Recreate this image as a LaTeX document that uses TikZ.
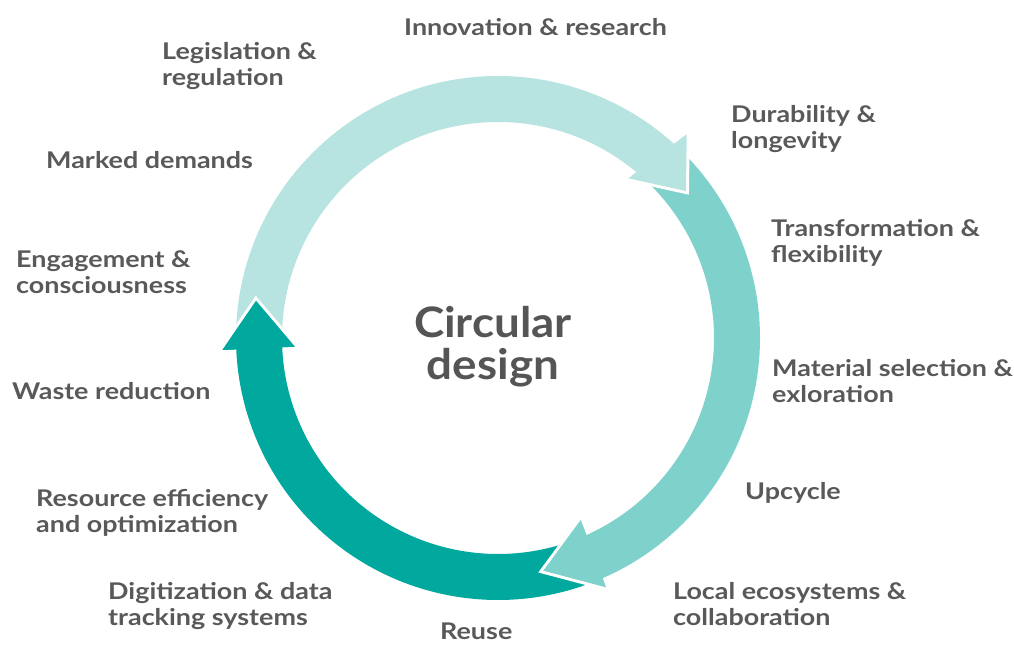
\documentclass[tikz,border=0pt]{standalone}
\usepackage{fontspec}
\setmainfont{Lato}[FakeStretch=1.17]
\newfontfamily\titlefont{Lato}[FakeStretch=1.09]
\definecolor{lightc}{RGB}{183,228,225}
\definecolor{midc}{RGB}{126,210,203}
\definecolor{darkc}{RGB}{0,168,157}
\definecolor{txtc}{RGB}{89,89,89}
\definecolor{titlec}{RGB}{85,85,85}
\tikzset{
  lbl/.style={anchor=north west, inner sep=0pt, align=left, text=txtc,
    font=\fontsize{23}{26.5}\selectfont\bfseries},
  title/.style={inner sep=0pt, align=center, text=titlec,
    font=\titlefont\fontsize{42}{42}\selectfont\bfseries},
  halo/.style={draw=white, line width=6pt, line join=miter, line cap=butt},
}
\begin{document}
\begin{tikzpicture}[x=1pt,y=1pt]
\useasboundingbox (-498,-307) rectangle (516,338);
% head points
\coordinate (lo) at (188.7,203.7);
\coordinate (lt) at (188.0,147.0);
\coordinate (li) at (130.3,159.7);
\coordinate (mo) at (108.0,-249.3);
\coordinate (mt) at (45.3,-232.7);
\coordinate (mi) at (82.7,-182.0);
\coordinate (do) at (-275.7,-12.0);
\coordinate (dt) at (-242.0,37.3);
\coordinate (di) at (-203.0,-8.7);
% bodies
\fill[lightc] (180:262) arc[start angle=180, end angle=47.8, radius=262]
  -- (lo) -- (lt) -- (li) -- (50.1:216)
  arc[start angle=50.1, end angle=180, radius=216] -- cycle;
\fill[midc] (46:262) arc[start angle=46, end angle=-66.47, radius=262]
  -- (mo) -- (mt) -- (mi) -- (-65.85:216)
  arc[start angle=-65.85, end angle=46, radius=216] -- cycle;
\fill[darkc] (-68:262) arc[start angle=-68, end angle=-177.51, radius=262]
  -- (do) -- (dt) -- (di) -- (-177.54:216)
  arc[start angle=-177.54, end angle=-68, radius=216] -- cycle;
% heads with white halo
\draw[halo] (lo) -- (lt) -- (li);
\fill[lightc] (47.8:262) -- (lo) -- (lt) -- (li) -- (50.1:216) -- cycle;
\draw[halo] (mo) -- (mt) -- (mi);
\fill[midc] (-66.47:262) -- (mo) -- (mt) -- (mi) -- (-65.85:216) -- cycle;
\draw[halo] (do) -- (dt) -- (di);
\fill[darkc] (-177.51:262) -- (do) -- (dt) -- (di) -- (-177.54:216) -- cycle;
% title
\node[title] (center) at (-5,-9) {Circular\\design};
% labels
\node[lbl] (innov) at (-94,320) {Innovation \& research};
\node[lbl] (legis) at (-336,296) {Legislation \&\\regulation};
\node[lbl] (durab) at (233,233) {Durability \&\\longevity};
\node[lbl] (marked) at (-452,187) {Marked demands};
\node[lbl] (transf) at (273,119) {Transformation \&\\flexibility};
\node[lbl] (engage) at (-482,88) {Engagement \&\\consciousness};
\node[lbl] (material) at (274,-21) {Material selection \&\\exloration};
\node[lbl] (waste) at (-486,-44) {Waste reduction};
\node[lbl] (upcycle) at (247,-144) {Upcycle};
\node[lbl] (resource) at (-462,-151) {Resource efficiency\\and optimization};
\node[lbl] (digit) at (-390,-244) {Digitization \& data\\tracking systems};
\node[lbl] (local) at (175,-244) {Local ecosystems \&\\collaboration};
\node[lbl] (reuse) at (-58,-285) {Reuse};
\end{tikzpicture}
\end{document}
